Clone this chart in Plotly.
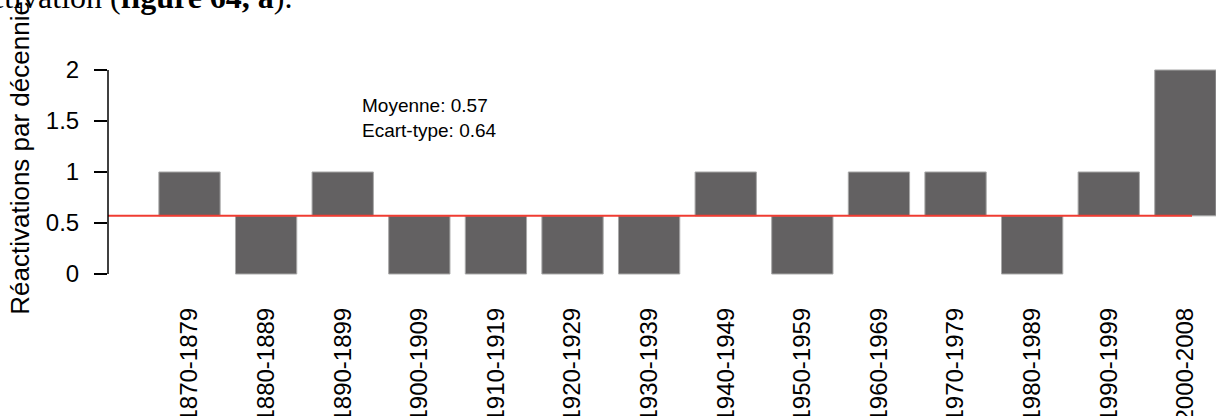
import plotly.graph_objects as go

categories = ["1870-1879", "1880-1889", "1890-1899", "1900-1909", "1910-1919",
              "1920-1929", "1930-1939", "1940-1949", "1950-1959", "1960-1969",
              "1970-1979", "1980-1989", "1990-1999", "2000-2008"]
values = [1, 0, 1, 0, 0, 0, 0, 1, 0, 1, 1, 0, 1, 2]
mean_value = 0.57
std_value = 0.64
y_tick_vals = [0, 0.5, 1, 1.5, 2]
y_tick_text = ["0", "0.5", "1", "1.5", "2"]

xpos = list(range(1, len(categories) + 1))
deltas = [v - mean_value for v in values]

fig = go.Figure()
fig.add_trace(go.Bar(
    x=xpos, y=deltas, base=mean_value, width=0.8,
    marker=dict(color="#636162", line=dict(color="#a8a8a8", width=1)),
    showlegend=False, hoverinfo="skip",
))

# mean line
fig.add_shape(type="line", xref="x", yref="y", x0=-0.064, x1=14.087,
              y0=mean_value, y1=mean_value, line=dict(color="#f03c32", width=2))
# y axis line spanning 0..2 only
fig.add_shape(type="line", xref="paper", yref="y", x0=0, x1=0, y0=0, y1=2,
              line=dict(color="black", width=1.5))

font_main = "Liberation Sans, Arial, sans-serif"

fig.add_annotation(xref="x", yref="y", x=3.22, y=1.775, xanchor="left", yanchor="top",
                   text=f"Moyenne: {mean_value}<br>Ecart-type: {std_value}",
                   showarrow=False, align="left",
                   font=dict(family=font_main, size=19, color="black"))

fig.add_annotation(xref="paper", yref="y", x=-0.0794, y=1.14, xanchor="center", yanchor="middle",
                   text="Réactivations par décennie", textangle=-90, showarrow=False,
                   font=dict(family=font_main, size=26, color="black"))

fig.add_annotation(xref="paper", yref="paper", x=(295 - 108) / 1108, y=(305 - 17) / 265,
                   xanchor="right", yanchor="bottom",
                   text="réactivation (<b>figure 64, a</b>).", showarrow=False,
                   font=dict(family="Liberation Serif, Times New Roman, serif", size=32, color="black"))

fig.update_layout(
    width=1216, height=416,
    margin=dict(l=108, r=0, t=40, b=111, autoexpand=False),
    paper_bgcolor="white", plot_bgcolor="white",
    bargap=0.2,
    xaxis=dict(range=[-0.064, 14.40], tickvals=xpos, ticktext=categories, tickangle=-90,
               showline=False, showgrid=False, zeroline=False, ticks="", automargin=False,
               ticklabelstandoff=-3,
               tickfont=dict(family=font_main, size=24, color="black")),
    yaxis=dict(range=[-0.304, 2.294], tickvals=y_tick_vals, ticktext=y_tick_text,
               showline=False, showgrid=False, zeroline=False, automargin=False,
               ticks="outside", ticklen=13, tickwidth=1.5, tickcolor="black",
               ticklabelstandoff=10,
               tickfont=dict(family=font_main, size=24, color="black")),
)

fig.write_html("out.html", config={"displayModeBar": False},
               post_script="document.body.style.margin='0';document.body.style.overflow='hidden';")
